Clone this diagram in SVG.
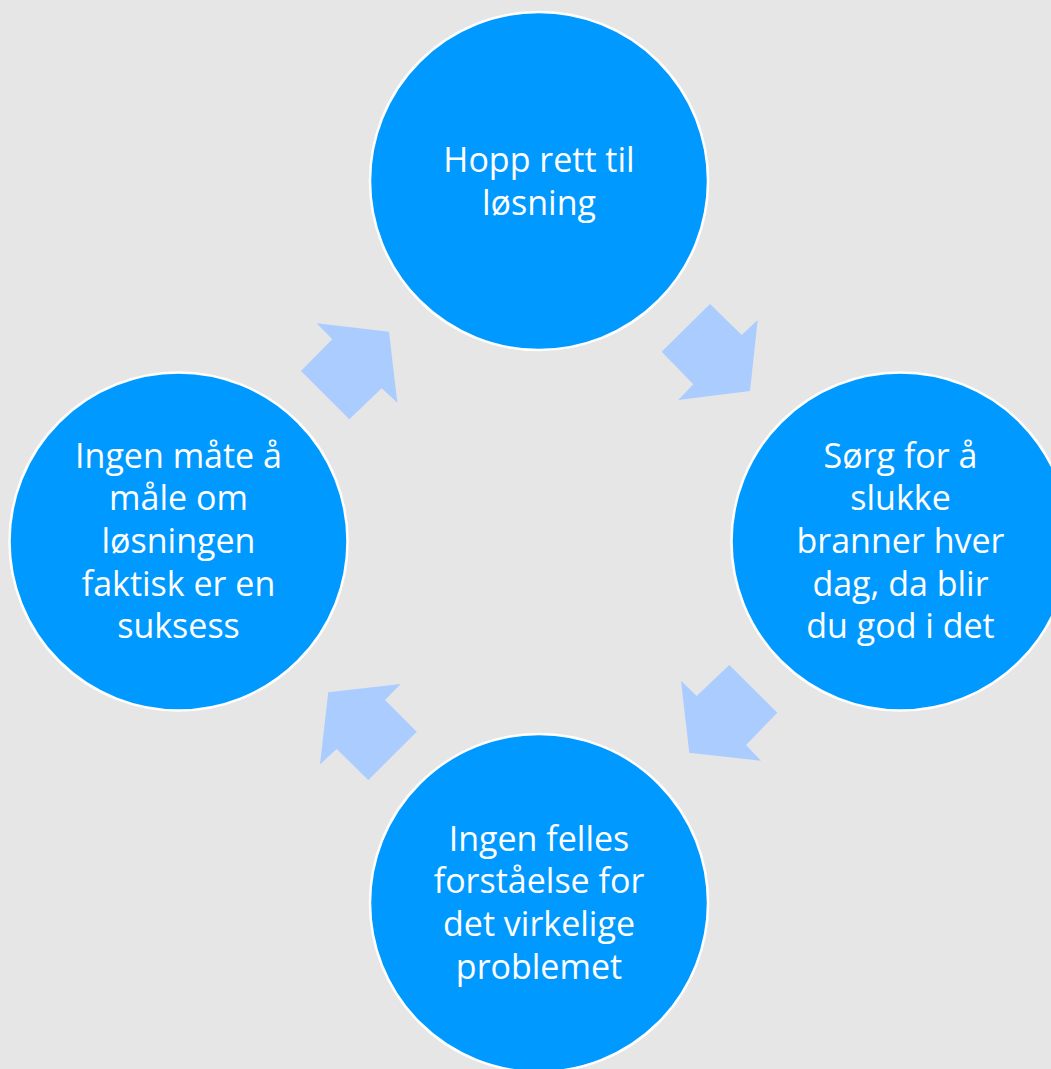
<svg xmlns="http://www.w3.org/2000/svg" width="1051" height="1069" viewBox="0 0 1051 1069">
<style>
.node circle{fill:#0099ff;stroke:#ffffff;stroke-width:2.5}
.node text{fill:#ffffff;font-family:"Open Sans","Liberation Sans",sans-serif;font-size:34px;text-anchor:middle}
.arrow{fill:#aaccff}
</style>
<rect x="0" y="0" width="1051" height="1069" fill="#e6e6e6"/>
<g id="connectors">
<polygon class="arrow" points="710,304 741.7,335 757.7,320 750,391 678.3,400 693.3,384.3 661.7,351.7"/>
<polygon class="arrow" points="729.3,665 777.3,712.7 746,745 761,760.7 689.3,752.7 681,680.7 696.7,696"/>
<polygon class="arrow" points="400.7,684 385,700 416.7,731.7 368.3,780 336.7,749 320,764.3 328.3,692.3"/>
<polygon class="arrow" points="316.7,323.3 389,331.7 397.3,402.7 381.7,388.3 349.3,419.3 301,371 332.3,339.3"/>
</g>
<g id="node-top" class="node">
<circle cx="539" cy="181" r="169"/>
<text x="539" y="172">Hopp rett til</text>
<text x="539" y="214.7">løsning</text>
</g>
<g id="node-right" class="node">
<circle cx="900.5" cy="541.5" r="169"/>
<text x="900.5" y="467.5">Sørg for å</text>
<text x="900.5" y="510.2">slukke</text>
<text x="900.5" y="552.9">branner hver</text>
<text x="900.5" y="595.6">dag, da blir</text>
<text x="900.5" y="638.3">du god i det</text>
</g>
<g id="node-bottom" class="node">
<circle cx="539" cy="903" r="169"/>
<text x="539" y="850.5">Ingen felles</text>
<text x="539" y="893.2">forståelse for</text>
<text x="539" y="935.9">det virkelige</text>
<text x="539" y="978.6">problemet</text>
</g>
<g id="node-left" class="node">
<circle cx="178.5" cy="541.5" r="169"/>
<text x="178.5" y="467.5">Ingen måte å</text>
<text x="178.5" y="510.2">måle om</text>
<text x="178.5" y="552.9">løsningen</text>
<text x="178.5" y="595.6">faktisk er en</text>
<text x="178.5" y="638.3">suksess</text>
</g>
</svg>
